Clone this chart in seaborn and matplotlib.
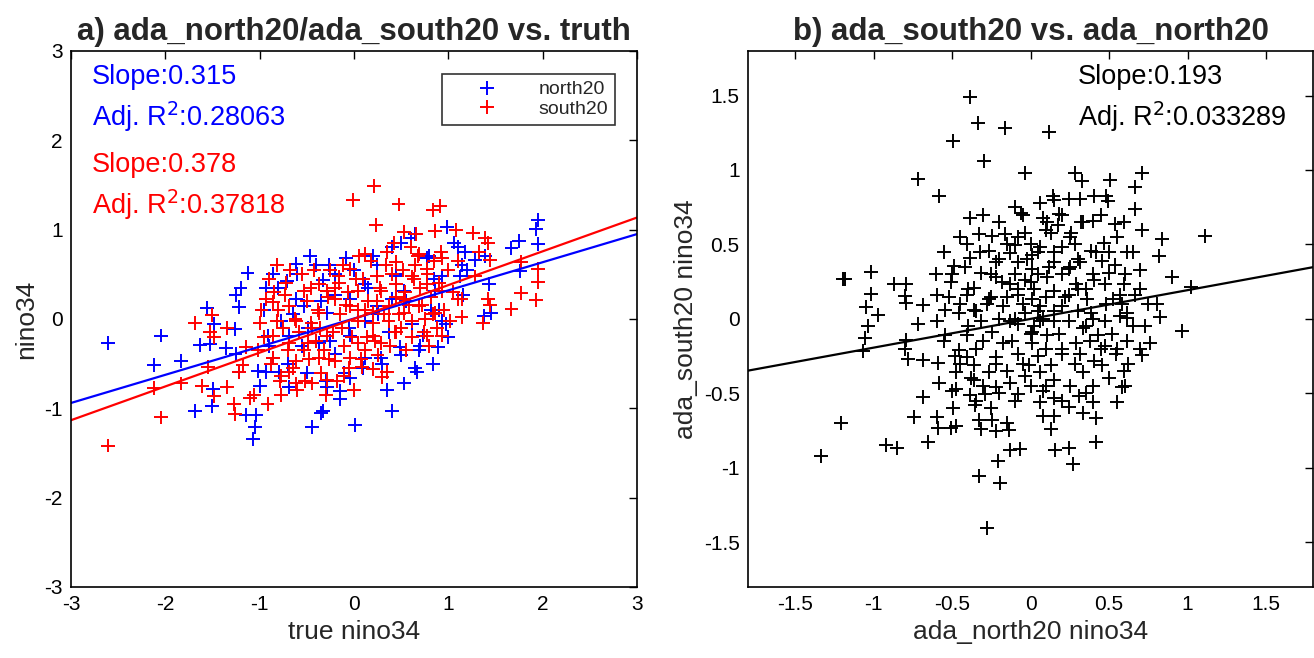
import pandas as pd
from matplotlib import pyplot as plt
from matplotlib import font_manager
import seaborn as sns

sns.set_style("white")

# the original uses a tall, condensed sans; take the narrow face if it is there
try:
    font_manager.findfont("Liberation Sans Narrow", fallback_to_default=False)
    family, k = "Liberation Sans Narrow", 1.22
except ValueError:
    family, k = "Liberation Sans", 1.0
plt.rcParams['font.family'] = [family, 'DejaVu Sans']
plt.rcParams['axes.unicode_minus'] = False

# panel a: truth (x) vs. north20 / south20 (y)
north_x = [-2.607, -2.045, -2.118, -1.833, -1.682, -1.507, -1.556, -1.487, -1.629, -1.527,
           -1.491, -1.128, -1.202, -1.255, -1.222, -1.356, -1.263, -1.255, -1.149, -1.039,
           -1.051, -1.071, -0.855, -0.937, -0.713, -0.611, -0.468, -0.081, -0.265, -0.448,
           -0.346, -0.326, 0.012, 0.407, 0.53, 0.672, 0.835, 0.896, 0.99, 0.501,
           1.059, 1.181, 1.283, 1.385, 1.434, 1.458, 1.377, 1.67, 1.752, 1.955,
           1.935, 1.955, 1.764, 1.161, 0.978, 0.937, -0.794, -0.692, -0.143, -0.041,
           -0.285, -0.937, -0.855, -1.222, -1.018, 0.122, 0.285, 0.489, 0.692, 0.733,
           0.815, 1.12, 1.141, 0.774, 0.652, 0.244, -0.326, -0.204, -0.611, -0.774,
           -0.916, -0.692, -0.489, -0.367, -0.204, -0.041, 0.122, 0.244, 0.407, 0.53,
           0.448, 0.122, -0.041, -0.285, -0.53, 0.611, 0.367, 0.855, 0.937,
           -0.9, -0.8, -0.7, -0.6, -0.5, -0.4, -0.3, -0.2, -0.1, 0.0,
           0.1, 0.2, 0.3, 0.4, 0.5, 0.6, 0.7, 0.8, 0.9, 1.0,
           -0.65, -0.35, -0.05, 0.25, 0.55, 0.85, -0.55, -0.25, 0.15, 0.45,
           1.1, 1.2, -1.0, -0.95, 0.65, -0.15, 0.35]
north_y = [-0.269, -0.186, -0.517, -0.475, -1.033, -0.979, 0.124, -0.054, -0.289, -0.277,
           -0.789, 0.517, 0.343, 0.269, 0.136, -0.322, -0.112, -0.393, -1.074, -1.074,
           -1.211, -1.343, 0.508, 0.343, 0.426, 0.62, 0.702, 0.682, 0.6, -1.211,
           -1.054, -1.033, -1.186, -1.033, -0.723, -0.599, -0.508, -0.31, 1.033, 0.847,
           0.855, 0.744, 0.661, 0.702, 0.393, 0.062, 0.029, 0.798, 0.868, 1.107,
           1.004, 0.839, 0.537, 0.269, -0.062, -0.021, -0.599, -0.764, -0.806, -0.661,
           -0.764, -0.599, -0.434, -0.599, -0.579, -0.434, -0.434, -0.31, -0.351, -0.186,
           0.103, 0.475, 0.599, 0.682, 0.95, 0.6, 0.434, 0.269, 0.227, -0.021,
           -0.186, -0.186, -0.103, -0.269, -0.393, -0.186, -0.021, 0.145, 0.227, 0.31,
           0.475, 0.393, 0.227, 0.062, 0.145, -0.062, -0.145, 0.31, 0.475,
           -0.3, 0.35, -0.5, 0.5, -0.6, 0.6, -0.7, 0.5, -0.6, 0.55,
           -0.55, 0.7, -0.5, 0.8, -0.4, 0.9, -0.3, 0.7, 0.1, -0.2,
           0.05, 0.2, -0.1, 0.05, 0.2, 0.45, -0.3, -0.25, 0.35, 0.5,
           0.8, 0.55, -0.75, 0.1, -0.55, -0.9, -0.8]

south_x = [-2.607, -2.045, -2.118, -1.833, -1.682, -1.507, -1.527, -1.487, -1.548, -1.609,
           -1.487, -1.344, -1.344, -1.271, -1.263, -1.1, -1.059, -0.916, -1.222, -1.141,
           -1.018, -1.181, -0.937, -0.855, -0.733, -0.012, 0.212, 0.473, 0.232, 0.835,
           0.908, 0.53, 0.66, 0.855, 1.079, 1.263, 1.385, 1.426, 1.324, 1.446,
           1.283, 1.426, 1.446, 1.141, 1.365, 1.67, 1.772, 1.772, 1.955, 1.955,
           1.935, 0.114, 0.346, 0.204, 0.081, -0.102, -0.285, -0.448, -0.611, -0.774,
           -0.692, 0.774, 0.937, 1.1, 0.937, 0.774, 0.937, 0.692, 0.448, 0.244,
           -0.041, -0.163, -0.367, -0.53, -0.692, -0.815, -0.855, -0.692, -0.53, -0.367,
           -0.204, -0.041, 0.122, 0.285, 0.448, 0.611, 0.692, 0.53, 0.367, 0.204,
           0.041, -0.122, -0.285, -0.448, -0.611, -0.367, -0.204, 0.041, 0.285, 0.448,
           0.611, 0.774, 0.855, -0.041, -0.285, -0.489, -0.611, -0.855, -0.774, 0.041,
           0.204, 0.367, 0.53, 1.018, 1.141,
           -0.9, -0.85, -0.8, -0.75, -0.7, -0.65, -0.6, -0.55, -0.5, -0.45,
           -0.4, -0.35, -0.3, -0.25, -0.2, -0.15, -0.1, -0.05, 0.0, 0.05,
           0.1, 0.15, 0.2, 0.25, 0.3, 0.35, 0.4, 0.45, 0.5, 0.55,
           0.6, 0.65, 0.7, 0.75, 0.8, 0.85, 0.9, 0.95, 1.0, -0.95,
           -0.88, -0.82, -0.72, -0.62, -0.58, -0.48, -0.42, -0.38, -0.32, -0.28,
           -0.22, -0.18, -0.12, -0.08, -0.02, 0.02, 0.08, 0.12, 0.18, 0.22,
           0.28, 0.32, 0.38, 0.42, 0.48, 0.52, 0.58, 0.62, 0.68, 0.72,
           0.78, 0.82, 0.88, 0.92, -0.78, -0.68, -0.52, -0.46, -0.36, -0.26,
           -0.16, -0.06, 0.04, 0.14, 0.24, 0.34, 0.44, 0.54, 0.64, 0.74,
           0.84, 1.05, 1.1, -1.0, -0.98]
south_y = [-1.417, -1.103, -0.773, -0.723, -0.041, 0.041, -0.145, -0.207, -0.537, -0.752,
           -0.868, -0.764, -0.103, -0.95, -1.062, -0.888, -0.847, -0.95, -0.599, -0.31,
           -0.351, -0.517, 0.227, 0.186, 0.269, 1.335, 1.488, 1.281, 1.054, 1.219,
           1.26, 0.971, 0.95, 0.979, 0.992, 0.963, 0.909, 0.847, 0.744, 0.661,
           0.475, 0.227, 0.153, 0.021, -0.041, 0.112, 0.289, 0.64, 0.558, 0.413,
           0.215, 0.723, -0.599, -0.558, -0.537, -0.64, -0.682, -0.723, -0.723, -0.847,
           -0.599, -0.186, -0.186, 0.227, 0.31, 0.558, 0.682, 0.723, 0.64, 0.475,
           0.558, 0.475, 0.393, 0.31, 0.145, -0.021, -0.186, -0.269, -0.351, -0.434,
           -0.475, -0.434, -0.351, -0.269, -0.145, -0.021, 0.145, 0.227, 0.145, 0.062,
           -0.021, -0.103, -0.186, -0.103, -0.021, 0.062, 0.227, 0.31, 0.31, 0.393,
           0.475, 0.393, 0.062, 0.145, 0.31, -0.269, -0.475, -0.434, -0.64, -0.269,
           -0.186, -0.021, 0.062, -0.021, 0.227,
           0.45, 0.3, 0.1, -0.1, -0.35, -0.55, -0.8, 0.5, 0.2, -0.05,
           -0.25, -0.6, -0.85, 0.55, 0.35, 0.05, -0.3, -0.55, -0.8, 0.7,
           0.45, 0.2, -0.05, -0.4, -0.65, 0.75, 0.5, 0.25, -0.1, -0.35,
           0.8, 0.6, 0.35, 0.0, -0.3, 0.65, 0.4, 0.1, 0.55, -0.2,
           -0.5, 0.6, 0.4, 0.0, -0.15, -0.45, 0.55, 0.1, -0.35, 0.25,
           -0.15, -0.7, 0.6, 0.15, -0.2, 0.45, -0.45, 0.1, 0.65, -0.25,
           0.35, 0.05, -0.3, 0.85, 0.05, 0.55, 0.15, -0.2, 0.7, 0.15,
           0.5, 0.25, -0.1, 0.75, -0.7, 0.55, -0.7, 0.35, -0.1, -0.45,
           0.4, 0.3, 0.1, -0.2, 0.2, 0.6, -0.15, 0.3, 0.45, -0.15,
           0.05, 0.3, 0.65, -0.05, 0.1]

# panel b: north20 (x) vs. south20 (y)
ns_x = [-0.388, -0.333, -0.165, 0.116, -0.495, -0.295, -0.716, -0.586, -0.035, 0.284,
        0.33, 0.505, 0.709, 0.663, 0.663, 0.709, 0.837, 1.109, 0.821, 0.9,
        1.023, 0.805, 0.826, 0.965, -1.184, -1.193, -1.019, -1.019, -1.047, -0.972,
        -1.035, -1.058, -1.07, -0.867, -0.791, -0.8, -0.791, -0.686, -0.716, -0.791,
        -0.798, -0.784, -0.686, -0.591, -0.581, -0.686, -0.74, -0.593, -0.591, -1.209,
        -1.333, -0.919, -0.853, -0.653, -0.505, -0.477, -0.495, -0.5, -0.477, -0.388,
        -0.356, -0.326, -0.314, -0.244, -0.221, -0.14, -0.326, -0.193, -0.277, -0.209,
        -0.128, -0.07, 0.156, 0.244, 0.272, 0.128, 0.419, 0.419, 0.395, 0.333,
        0.244, 0.307, 0.551, 0.581, 0.593, 0.547, 0.616, 0.709, 0.76, 0.728,
        0.616, 0.57, 0.663, 0.698, 0.616, 0.535, 0.465, 0.535, 0.593, 0.395,
        0.337, 0.256, 0.14, 0.058, -0.058, -0.384, -0.326, -0.402, -0.384, -0.488,
        -0.505, -0.593, -0.547, -0.407, -0.244, -0.163, -0.1, -0.035, 0.244, 0.314,
        0.402, 0.481, 0.495, 0.179, 0.105, 0.453, 0.407, 0.477, 0.57, 0.616,
        -0.221, -0.128, -0.081, 0.012, 0.058, -0.035, -0.081, 0.012, 0.105, 0.151,
        0.198, 0.244, 0.291, 0.36, 0.384, 0.337, 0.291, 0.198, 0.128, 0.058,
        -0.012, -0.081, -0.174, -0.244, -0.314, -0.36, -0.407, -0.453, -0.36, -0.267,
        -0.221, -0.128, -0.035, 0.081, 0.151, 0.058, -0.081, -0.291, -0.36, -0.477,
        -0.221, -0.081, 0.012, 0.105, 0.151, 0.244, 0.314, 0.198, 0.058, 0.012,
        -0.128, -0.267, -0.314, -0.36, -0.267, -0.174, -0.128, 0.43, 0.477, 0.407,
        0.477, 0.523, 0.593, 0.5, 0.384, 0.128, 0.081, 0.174, 0.337, 0.453,
        0.314, 0.151, 0.012, 0.058, -0.035, 0.151, 0.244, -0.221, -0.407, -0.547,
        -0.593, -0.453,
        -0.55, -0.5, -0.45, -0.4, -0.35, -0.3, -0.25, -0.2, -0.15, -0.1,
        -0.05, 0.0, 0.05, 0.1, 0.15, 0.2, 0.25, 0.3, 0.35, 0.4,
        0.45, 0.5, 0.55, 0.6, 0.65, 0.7, -0.52, -0.48, -0.42, -0.38,
        -0.32, -0.28, -0.22, -0.18, -0.12, -0.08, -0.02, 0.02, 0.08, 0.12,
        0.18, 0.22, 0.28, 0.32, 0.38, 0.42, 0.48, 0.52, 0.58, 0.62,
        -0.3, -0.25, -0.2, -0.15, -0.1, -0.05, 0.0, 0.05, 0.1, 0.15,
        0.2, 0.25, 0.3, 0.35, 0.4, 0.45, 0.5, -0.45, -0.35, -0.15,
        0.05, 0.1, 0.15, 0.2, 0.25, 0.3, -0.05, -0.1, 0.0, 0.05,
        0.1, -0.25, -0.2, -0.3, -0.4, -0.45, -0.35, -0.2, 0.0, 0.2,
        0.4, 0.55, 0.65, 0.6, -0.55, -0.6, 0.7, 0.75, 0.15, -0.1,
        0.08, -0.15, 0.28, 0.35, -0.08, 0.02]
ns_y = [1.489, 1.316, 1.281, 1.257, 1.198, 1.062, 0.938, 0.827, 0.983, 0.983,
        0.926, 0.933, 0.983, 0.889, 0.736, 0.6, 0.538, 0.556, 0.42, 0.284,
        0.215, 0.099, 0.012, -0.081, 0.269, 0.269, 0.314, 0.17, 0.079, 0.025,
        -0.049, -0.126, -0.217, 0.235, 0.235, 0.153, 0.106, 0.096, -0.037, -0.141,
        -0.205, -0.267, -0.279, -0.299, -0.432, -0.526, -0.659, -0.659, -0.733, -0.696,
        -0.921, -0.847, -0.864, -0.827, -0.733, -0.716, -0.598, -0.486, -0.472, -0.514,
        -0.58, -0.679, -0.741, -0.679, -0.753, -0.743, -1.057, -1.099, -1.407, -0.953,
        -0.881, -0.872, -0.881, -0.864, -0.975, -0.741, -0.827, -0.667, -0.556, -0.63,
        -0.593, -0.519, -0.556, -0.457, -0.348, -0.235, -0.148, -0.24, -0.165, -0.049,
        0.037, 0.02, 0.16, 0.328, 0.452, 0.363, 0.511, 0.635, 0.654, 0.659,
        0.654, 0.58, 0.827, 0.778, 0.709, 0.679, 0.573, 0.506, 0.407, 0.358,
        0.247, 0.16, 0.062, 0.16, 0.556, 0.568, 0.494, 0.58, 0.802, 0.802,
        0.822, 0.827, 0.79, 0.704, 0.654, 0.388, 0.264, 0.235, 0.16, 0.007,
        0.284, 0.235, 0.16, 0.136, 0.086, 0.037, -0.037, -0.086, -0.111, -0.012,
        0.086, 0.16, 0.235, 0.136, 0.037, -0.062, -0.16, -0.235, -0.309, -0.358,
        -0.309, -0.235, -0.16, -0.086, -0.012, 0.062, -0.111, -0.21, -0.309, -0.358,
        -0.457, -0.432, -0.383, -0.481, -0.531, -0.556, -0.506, -0.506, -0.407, -0.358,
        0.383, 0.383, 0.333, 0.284, 0.383, 0.333, 0.383, 0.481, 0.481, 0.432,
        0.444, 0.457, 0.309, 0.21, 0.136, 0.086, -0.012, -0.111, -0.185, -0.284,
        -0.012, 0.136, 0.235, 0.309, 0.457, 0.58, 0.679, 0.63, -0.358, -0.309,
        -0.235, -0.407, -0.16, -0.012, 0.259, 0.185, -0.012, -0.259, -0.259, -0.111,
        -0.012, 0.037,
        0.45, 0.3, 0.1, -0.05, -0.2, -0.45, -0.6, 0.65, 0.5, 0.3,
        0.1, -0.1, -0.25, -0.45, -0.65, 0.7, 0.55, 0.4, 0.2, 0.0,
        -0.2, -0.4, 0.55, 0.3, -0.05, 0.2, 0.15, -0.25, 0.35, -0.4,
        0.45, 0.1, -0.3, 0.25, -0.15, 0.55, 0.4, 0.2, 0.0, 0.35,
        -0.1, 0.15, -0.3, 0.65, -0.15, 0.45, 0.1, -0.1, 0.1, -0.3,
        0.7, 0.3, 0.0, -0.35, -0.55, 0.7, 0.5, 0.3, 0.15, 0.05,
        -0.2, -0.45, 0.05, -0.5, 0.3, 0.7, 0.45, 0.55, 0.05, 0.15,
        0.45, 0.6, 0.45, 0.3, 0.35, 0.2, -0.3, 0.0, 0.25, 0.05,
        -0.2, 0.15, 0.4, -0.15, 0.2, -0.3, -0.55, -0.5, -0.45, -0.55,
        -0.45, -0.2, 0.45, -0.45, -0.15, 0.3, -0.2, 0.1, 0.8, 0.75,
        -0.65, -0.7, 0.5, -0.05, 0.2, -0.05]

# fit results as printed on the chart
fit_a = {"north20": (0.315, 0.004), "south20": (0.378, 0.0)}
fit_b = (0.193, 0.0)

df_a = pd.concat([
    pd.DataFrame({"truth": north_x, "model": north_y, "series": "north20"}),
    pd.DataFrame({"truth": south_x, "model": south_y, "series": "south20"}),
])
df_b = pd.DataFrame({"north": ns_x, "south": ns_y})

colors = {"north20": "blue", "south20": "red"}

fs_title = 22.5 * k
fs_label = 19 * k
fs_note = 19.5 * k
fs_tick = 15 * k
fs_leg = 14 * k

fig = plt.figure(figsize=(13.14, 6.58), dpi=100)
ax1 = fig.add_axes([0.054, 0.108, 0.4307, 0.8147])
ax2 = fig.add_axes([0.5693, 0.108, 0.4300, 0.8147])

sns.scatterplot(data=df_a, x="truth", y="model", hue="series", palette=colors,
                marker="+", s=100, linewidth=1.4, ax=ax1, legend=True)
for name, (slope, icpt) in fit_a.items():
    ax1.axline((0, icpt), slope=slope, color=colors[name], lw=1.6)

ax1.set_xlim(-3, 3)
ax1.set_ylim(-3, 3)
ax1.set_xticks([-3, -2, -1, 0, 1, 2, 3])
ax1.set_yticks([-3, -2, -1, 0, 1, 2, 3])
ax1.set_xlabel("true nino34", fontsize=fs_label)
ax1.set_ylabel("nino34", fontsize=fs_label)
ax1.set_title("a) ada_north20/ada_south20 vs. truth", fontsize=fs_title, fontweight="bold", pad=8)
ax1.text(0.037, 0.952, "Slope:0.315", color="blue", fontsize=fs_note, transform=ax1.transAxes, va="center")
ax1.text(0.037, 0.878, "Adj. R$^2$:0.28063", color="blue", fontsize=fs_note, transform=ax1.transAxes, va="center")
ax1.text(0.037, 0.787, "Slope:0.378", color="red", fontsize=fs_note, transform=ax1.transAxes, va="center")
ax1.text(0.037, 0.713, "Adj. R$^2$:0.37818", color="red", fontsize=fs_note, transform=ax1.transAxes, va="center")
leg = ax1.legend(loc="upper right", bbox_to_anchor=(0.961, 0.957), borderaxespad=0,
                 fontsize=fs_leg, frameon=True, fancybox=False, handlelength=3.9,
                 handletextpad=0.7, borderpad=0.35, labelspacing=0.1)
leg.get_frame().set_edgecolor("black")
leg.get_frame().set_linewidth(1.2)
leg.set_title(None)

sns.scatterplot(data=df_b, x="north", y="south", color="black",
                marker="+", s=100, linewidth=1.4, ax=ax2)
ax2.axline((0, fit_b[1]), slope=fit_b[0], color="black", lw=1.6)
ax2.set_xlim(-1.8, 1.8)
ax2.set_ylim(-1.8, 1.8)
ax2.set_xticks([-1.5, -1, -0.5, 0, 0.5, 1, 1.5])
ax2.set_yticks([-1.5, -1, -0.5, 0, 0.5, 1, 1.5])
ax2.set_xticklabels(["-1.5", "-1", "-0.5", "0", "0.5", "1", "1.5"])
ax2.set_yticklabels(["-1.5", "-1", "-0.5", "0", "0.5", "1", "1.5"])
ax2.set_xlabel("ada_north20 nino34", fontsize=fs_label)
ax2.set_ylabel("ada_south20 nino34", fontsize=fs_label)
ax2.set_title("b) ada_south20 vs. ada_north20", fontsize=fs_title, fontweight="bold", pad=8)
ax2.text(0.584, 0.952, "Slope:0.193", color="black", fontsize=fs_note, transform=ax2.transAxes, va="center")
ax2.text(0.584, 0.878, "Adj. R$^2$:0.033289", color="black", fontsize=fs_note, transform=ax2.transAxes, va="center")

for ax in (ax1, ax2):
    for sp in ax.spines.values():
        sp.set_color("black")
        sp.set_linewidth(1.2)
    ax.tick_params(direction="in", length=6, width=1, top=True, right=True,
                   labelsize=fs_tick, colors="black", pad=6)

fig.savefig("out.png", dpi=100)
